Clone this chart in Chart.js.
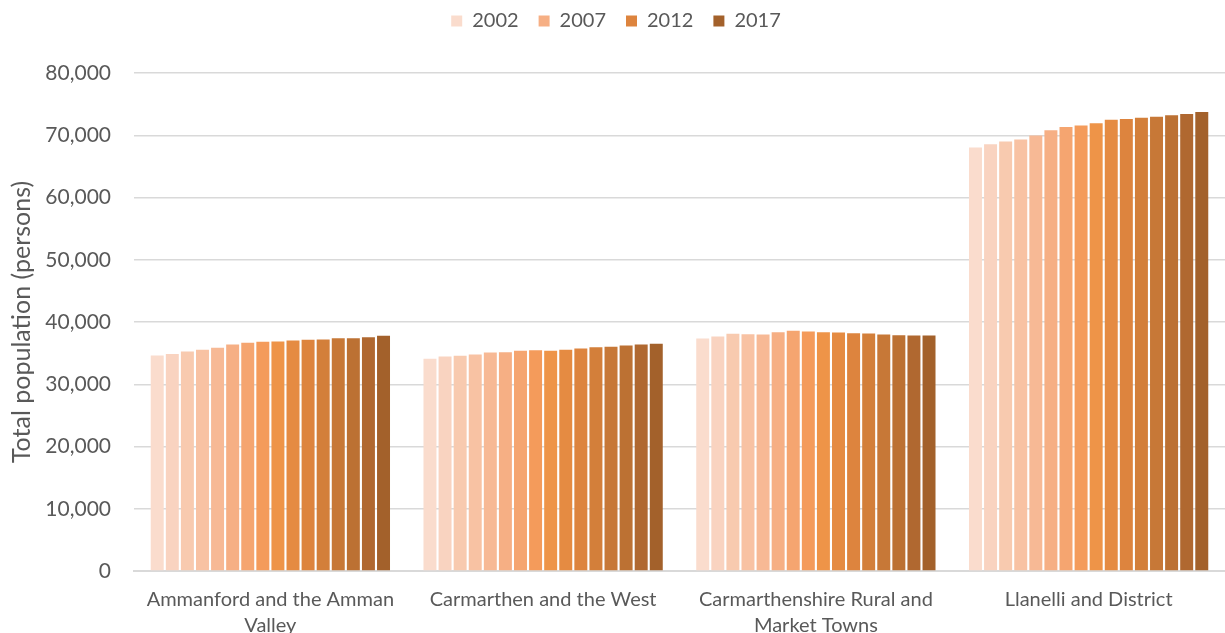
<!DOCTYPE html>
<html>
<head>
<meta charset="utf-8">
<script src="https://cdn.jsdelivr.net/npm/chart.js@4/dist/chart.umd.min.js"></script>
<style>
  html, body { margin: 0; padding: 0; background: #fff; }
  #wrap { width: 1225px; height: 633px; }
</style>
</head>
<body>
<div id="wrap"><canvas id="poblacion"></canvas></div>
<script>
// areas (etiquetas del eje x, en dos lineas cuando son largas)
const areas = [
  ["Ammanford and the Amman", "Valley"],
  "Carmarthen and the West",
  ["Carmarthenshire Rural and", "Market Towns"],
  "Llanelli and District"
];

const years = ["2002","2003","2004","2005","2006","2007","2008","2009",
               "2010","2011","2012","2013","2014","2015","2016","2017"];

// poblacion total por area, un arreglo por area (2002 -> 2017)
const ammanford  = [34630, 34840, 35270, 35540, 35860, 36390, 36670, 36830,
                    36870, 37030, 37150, 37190, 37400, 37400, 37560, 37790];
const carmarthen = [34100, 34470, 34580, 34790, 35110, 35160, 35380, 35480,
                    35380, 35540, 35750, 35960, 36020, 36230, 36390, 36500];
const rural      = [37350, 37670, 38110, 38040, 38000, 38360, 38590, 38480,
                    38360, 38320, 38200, 38160, 38000, 37880, 37840, 37840];
const llanelli   = [68020, 68570, 68990, 69310, 69950, 70810, 71340, 71550,
                    71940, 72510, 72630, 72830, 72990, 73220, 73430, 73750];

const yTicks = [0, 10000, 20000, 30000, 40000, 50000, 60000, 70000, 80000];

// un color por año, de durazno claro a marron
const colores = [
  "#FADCCD", "#F9D3C0", "#F8CAAF", "#F8C2A3", "#F7B995", "#F6AF84",
  "#F5A570", "#F49B5B", "#EE9448", "#E58B42", "#DD843E", "#D37F3A",
  "#C77837", "#BC7133", "#B06830", "#A3612B"
];

// años que aparecen en la leyenda
const enLeyenda = ["2002", "2007", "2012", "2017"];

const porArea = [ammanford, carmarthen, rural, llanelli];

const datasets = years.map((anio, i) => ({
  label: anio,
  data: porArea.map(serie => serie[i]),
  backgroundColor: colores[i],
  borderWidth: 0,
  barPercentage: 0.86,
  categoryPercentage: 0.885
}));

const gris = "#595959";
const fuente = "Lato, 'Open Sans', sans-serif";

// espacio extra debajo de la leyenda
const espacioLeyenda = {
  id: "espacioLeyenda",
  beforeInit(chart) {
    const fitOriginal = chart.legend.fit;
    chart.legend.fit = function () {
      fitOriginal.bind(chart.legend)();
      this.height += 32;
    };
  }
};

const grafPoblacion = new Chart(
  document.querySelector("#poblacion"),
  {
    type: "bar",
    data: {
      labels: areas,
      datasets: datasets
    },
    plugins: [espacioLeyenda],
    options: {
      responsive: true,
      maintainAspectRatio: false,
      animation: false,
      layout: { padding: { left: 7, right: 0, top: -9, bottom: 0 } },
      plugins: {
        tooltip: { enabled: false },
        legend: {
          position: "top",
          labels: {
            filter: (item) => enLeyenda.includes(item.text),
            boxWidth: 11,
            boxHeight: 11,
            padding: 20,
            color: gris,
            font: { family: fuente, size: 20 }
          }
        }
      },
      scales: {
        x: {
          afterFit: (axis) => { axis.height = 62; },
          grid: { display: false },
          border: { color: "#D9D9D9", width: 2 },
          ticks: {
            color: gris,
            padding: 8,
            maxRotation: 0,
            autoSkip: false,
            font: { family: fuente, size: 20, lineHeight: 1.3 }
          }
        },
        y: {
          min: 0,
          max: 80000,
          afterFit: (axis) => { axis.width = 127; },
          afterBuildTicks: (axis) => {
            axis.ticks = yTicks.map(v => ({ value: v }));
          },
          grid: { color: "#D9D9D9", lineWidth: 1.5, drawTicks: false },
          border: { display: false },
          ticks: {
            color: gris,
            padding: 23,
            font: { family: fuente, size: 21 },
            callback: (v) => v.toLocaleString("en-US")
          },
          title: {
            display: true,
            text: "Total population (persons)",
            color: gris,
            font: { family: fuente, size: 25 },
            padding: { top: 0, bottom: 6 }
          }
        }
      }
    }
  }
);
</script>
</body>
</html>
